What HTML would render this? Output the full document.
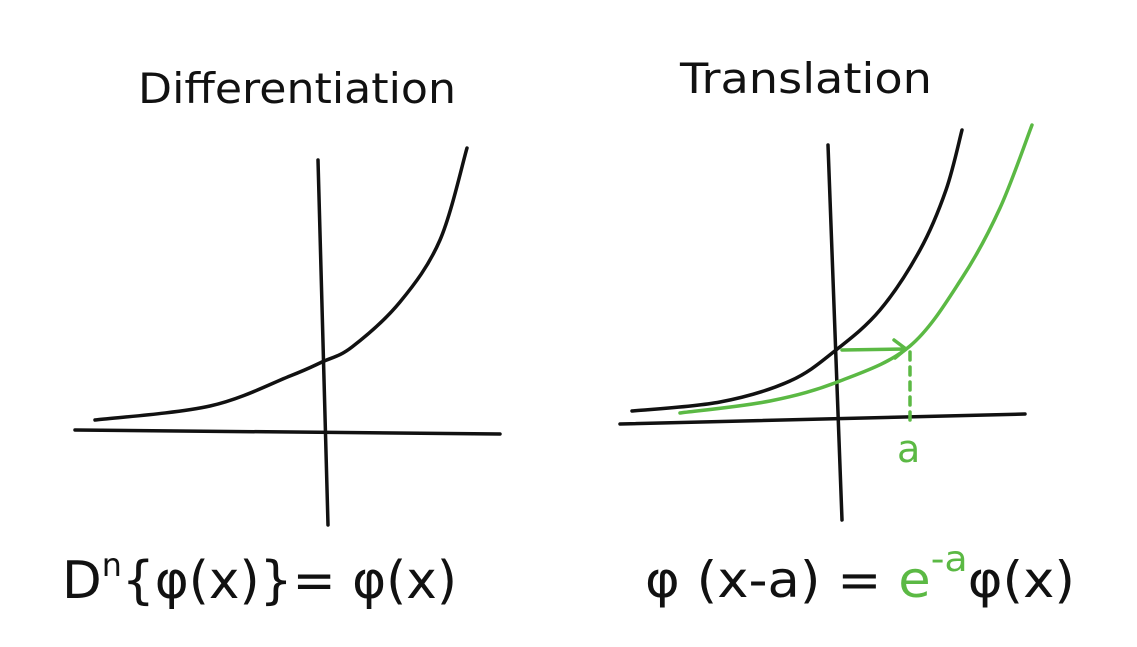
<!DOCTYPE html>
<html><head><meta charset="utf-8">
<style>
html,body{margin:0;padding:0;background:#fff;}
svg{display:block;}
text{font-family:"DejaVu Sans","Liberation Sans",sans-serif;}
</style></head>
<body>
<svg id="s" width="1137" height="647" viewBox="0 0 1137 647" xmlns="http://www.w3.org/2000/svg">
  <text x="138" y="103" font-size="42" fill="#111" textLength="318" lengthAdjust="spacingAndGlyphs">Differentiation</text>
  <text x="680" y="93" font-size="42" fill="#111" textLength="252" lengthAdjust="spacingAndGlyphs">Translation</text>
  <g id="marks"></g>
  <text x="62" y="598" font-size="52" fill="#111" textLength="395" lengthAdjust="spacingAndGlyphs">D<tspan dy="-22" font-size="32">n</tspan><tspan dy="22">{φ(x)}= φ(x)</tspan></text>
  <text x="645" y="597" font-size="50" fill="#111" textLength="430" lengthAdjust="spacingAndGlyphs">φ (x-a) = <tspan fill="#5bb944">e</tspan><tspan fill="#5bb944" dy="-26" font-size="36">-a</tspan><tspan dy="26">φ(x)</tspan></text>
  <text x="897" y="462" font-size="38" fill="#5bb944">a</text>
</svg>
<script>
const leftCurveX = [95, 210, 290, 322, 352, 400, 440, 467];
const leftCurveY = [420, 406, 376, 362, 347, 302, 240, 148];
const rightCurveX = [632, 720, 790, 836, 880, 920, 946, 962];
const rightCurveY = [411, 402, 381, 350, 310, 250, 190, 130];
const shiftedCurveX = [680, 770, 840, 910, 962, 1000, 1032];
const shiftedCurveY = [413, 401, 381, 346, 278, 208, 125];
const axesLines = [[75,430,500,434],[318,160,328,525],[620,424,1025,414],[828,145,842,520]];
const arrowShift = [842, 350, 906, 349];
const dashGuide = [910, 352, 910, 420];

const NS = "http://www.w3.org/2000/svg";
const g = document.getElementById('marks');
function smooth(xs, ys){
  let d = `M${xs[0]},${ys[0]}`;
  for(let i=0;i<xs.length-1;i++){
    const x0=xs[i-1]??xs[i], y0=ys[i-1]??ys[i], x1=xs[i], y1=ys[i], x2=xs[i+1], y2=ys[i+1];
    const x3=xs[i+2]??x2, y3=ys[i+2]??y2;
    d+=` C${x1+(x2-x0)/6},${y1+(y2-y0)/6} ${x2-(x3-x1)/6},${y2-(y3-y1)/6} ${x2},${y2}`;
  }
  return d;
}
function path(d, color, name, dash){
  const p = document.createElementNS(NS,'path');
  p.setAttribute('d', d); p.setAttribute('fill','none');
  p.setAttribute('stroke', color); p.setAttribute('stroke-width','3.5');
  p.setAttribute('stroke-linecap','round'); p.setAttribute('stroke-linejoin','round');
  if(dash) p.setAttribute('stroke-dasharray', dash);
  
  
  g.appendChild(p);
}
const axisNames = ['left-x-axis','left-y-axis','right-x-axis','right-y-axis'];
axesLines.forEach((a,i)=>path(`M${a[0]},${a[1]} L${a[2]},${a[3]}`, '#111', axisNames[i]));
path(smooth(leftCurveX,leftCurveY), '#111', 'left-exp-curve');
path(smooth(rightCurveX,rightCurveY), '#111', 'right-exp-curve');
path(smooth(shiftedCurveX,shiftedCurveY), '#5bb944', 'shifted-exp-curve');
const A = arrowShift;
path(`M${A[0]},${A[1]} L${A[2]},${A[3]} M${A[2]-12},${A[3]-9} L${A[2]},${A[3]} L${A[2]-11},${A[3]+9}`, '#5bb944', 'shift-arrow');
const D = dashGuide;
path(`M${D[0]},${D[1]} L${D[2]},${D[3]}`, '#5bb944', 'shift-dash-guide', '8 7');
</script>
</body></html>
